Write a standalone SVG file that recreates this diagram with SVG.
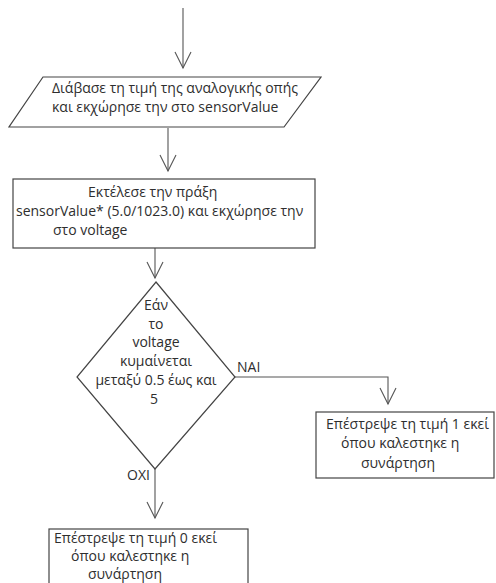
<svg xmlns="http://www.w3.org/2000/svg" width="496" height="583" viewBox="0 0 496 583">
  <style>
    .shape { fill: #ffffff; stroke: #444444; stroke-width: 1.2; }
    .wire { fill: none; stroke: #555555; stroke-width: 1.1; }
    text { font-family: "Open Sans", "Noto Sans", "Liberation Sans", sans-serif; font-size: 14px; fill: #2e2e2e; }
    .c { text-anchor: middle; }
  </style>
  <defs>
    <marker id="vhead" markerUnits="userSpaceOnUse" markerWidth="20" markerHeight="20" viewBox="0 0 20 20" refX="17" refY="10" orient="auto">
      <path d="M1,2 L17,10 L1,18" fill="none" stroke="#555555" stroke-width="1.1"/>
    </marker>
  </defs>
  <rect width="496" height="583" fill="#ffffff"/>

  <g id="connectors">
    <path class="wire" d="M183,8 V68" marker-end="url(#vhead)"/>
    <path class="wire" d="M168,128 V171" marker-end="url(#vhead)"/>
    <path class="wire" d="M155,248 V278" marker-end="url(#vhead)"/>
    <path class="wire" d="M235,377 H388 V404" marker-end="url(#vhead)"/>
    <path class="wire" d="M155,469 V518" marker-end="url(#vhead)"/>
    <text x="237" y="372">NAI</text>
    <text x="127" y="480">OXI</text>
  </g>

  <g id="read-input">
    <polygon class="shape" points="43,77 321,77 284,127 9,127"/>
    <text x="52" y="93">Διάβασε τη τιμή της αναλογικής οπής</text>
    <text x="52" y="112">και εκχώρησε την στο sensorValue</text>
  </g>

  <g id="compute-voltage">
    <rect class="shape" x="13" y="179" width="302" height="69"/>
    <text x="88" y="197">Εκτέλεσε την πράξη</text>
    <text x="16" y="216">sensorValue* (5.0/1023.0) και εκχώρησε την</text>
    <text x="53" y="235">στο voltage</text>
  </g>

  <g id="check-range">
    <polygon class="shape" points="156,282 235,377 155,469 77,377"/>
    <text class="c" x="156" y="310">Εάν</text>
    <text class="c" x="156" y="329">το</text>
    <text class="c" x="156" y="347">voltage</text>
    <text class="c" x="156" y="366">κυμαίνεται</text>
    <text class="c" x="156" y="385">μεταξύ 0.5 έως και</text>
    <text class="c" x="154" y="404">5</text>
  </g>

  <g id="return-one">
    <rect class="shape" x="316" y="412" width="178" height="66"/>
    <text x="326" y="429">Επέστρεψε τη τιμή 1 εκεί</text>
    <text x="341" y="448">όπου καλεστηκε η</text>
    <text x="361" y="468">συνάρτηση</text>
  </g>

  <g id="return-zero">
    <rect class="shape" x="49" y="529" width="199" height="70"/>
    <text x="54" y="543">Επέστρεψε τη τιμή 0 εκεί</text>
    <text x="71" y="561">όπου καλεστηκε η</text>
    <text x="88" y="579">συνάρτηση</text>
  </g>
</svg>
